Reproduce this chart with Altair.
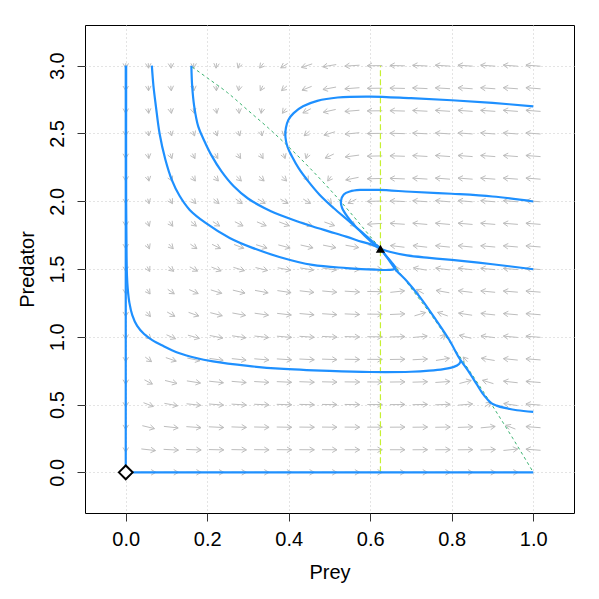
import math
import altair as alt
import pandas as pd

# ---------------- data ----------------
prey_ticks = [0.0, 0.2, 0.4, 0.6, 0.8, 1.0]
predator_ticks = [0.0, 0.5, 1.0, 1.5, 2.0, 2.5, 3.0]

# arrow grid (19 x 19)
grid_prey = [0.0, 0.0556, 0.1111, 0.1667, 0.2222, 0.2778, 0.3333, 0.3889, 0.4444, 0.5,
             0.5556, 0.6111, 0.6667, 0.7222, 0.7778, 0.8333, 0.8889, 0.9444, 1.0]
grid_predator = [0.0, 0.1667, 0.3333, 0.5, 0.6667, 0.8333, 1.0, 1.1667, 1.3333, 1.5,
                 1.6667, 1.8333, 2.0, 2.1667, 2.3333, 2.5, 2.6667, 2.8333, 3.0]

# direction of the flow at every grid point (degrees, in data space); None = no arrow
flow_angle = [
    [None, 0, 0, 0, 0, 0, 0, 0, 0, 0, 0, 0, 0, 0, 0, 0, 0, 0, None],
    [-90, -19, -9, -6, -4, -3, -2, -2, -1, -1, 0, 0, 0, 1, 1, 2, 5, 17, 167],
    [-90, -36, -18, -12, -8, -6, -4, -3, -2, -2, -1, 0, 1, 2, 3, 6, 16, 130, 167],
    [-90, -49, -28, -18, -13, -10, -7, -5, -4, -3, -2, 0, 1, 3, 6, 14, 65, 156, 167],
    [-90, -58, -37, -25, -18, -14, -10, -8, -6, -4, -2, -1, 2, 5, 12, 38, 137, 161, 167],
    [-90, -65, -46, -32, -24, -18, -14, -11, -8, -6, -3, -1, 3, 9, 26, 107, 153, 163, 167],
    [-90, -70, -53, -40, -30, -23, -18, -14, -11, -8, -5, -1, 4, 17, 72, 144, 159, 164, 167],
    [-90, -74, -59, -47, -37, -29, -23, -19, -15, -11, -7, -2, 8, 42, 133, 155, 162, 165, 167],
    [-90, -77, -64, -53, -43, -36, -29, -24, -19, -15, -10, -3, 18, 120, 152, 160, 163, 166, 167],
    [-90, -80, -69, -59, -50, -42, -36, -30, -25, -21, -16, -6, 99, 152, 159, 162, 165, 166, 167],
    [-90, -82, -73, -64, -56, -50, -43, -38, -34, -31, -28, -33, 160, 161, 163, 164, 165, 166, 167],
    [-90, -83, -76, -69, -63, -57, -52, -48, -46, -47, -64, -169, 169, 165, 165, 165, 166, 167, 167],
    [-90, -84, -79, -73, -68, -64, -61, -59, -61, -74, -124, -175, 172, 168, 166, 166, 166, 167, 167],
    [-90, -86, -81, -77, -74, -71, -70, -71, -79, -104, -149, -176, 173, 169, 167, 167, 167, 167, 167],
    [-90, -87, -83, -80, -78, -77, -78, -83, -97, -125, -158, -177, 174, 170, 168, 167, 167, 167, 167],
    [-90, -87, -85, -83, -82, -83, -86, -94, -111, -138, -163, -178, 175, 171, 169, 168, 167, 167, 167],
    [-90, -88, -87, -86, -86, -88, -93, -104, -122, -146, -166, -178, 175, 171, 169, 168, 168, 167, 167],
    [-90, -89, -88, -88, -89, -93, -100, -111, -130, -151, -167, -178, 176, 172, 170, 168, 168, 167, 167],
    [-90, -89, -89, -90, -92, -97, -105, -118, -135, -154, -169, -178, 176, 172, 170, 169, 168, 167, 167],
]

# prey nullcline (dashed green)
prey_null_prey = [0.163, 0.2, 0.25, 0.3, 0.35, 0.4, 0.45, 0.5, 0.55, 0.6, 0.65, 0.7,
                  0.75, 0.8, 0.85, 0.9, 0.95, 1.0]
prey_null_pred = [2.99, 2.91, 2.80, 2.67, 2.54, 2.40, 2.25, 2.09, 1.92, 1.74, 1.56, 1.36,
                  1.16, 0.94, 0.72, 0.49, 0.25, 0.0]
# predator nullcline (dashed yellow-green)
pred_null_prey = [0.625, 0.625]
pred_null_pred = [0.0, 3.0]

# trajectories (prey, predator)
traj_prey = {
    "t1": [0.0, 0.0],
    "t2": [0.0, 1.0],
    "t3": [0.064, 0.068, 0.074, 0.083, 0.097, 0.113, 0.132, 0.157, 0.196, 0.255, 0.311,
           0.377, 0.458, 0.542, 0.61, 0.645, 0.658, 0.661, 0.652, 0.638, 0.625],
    "t4": [0.161, 0.163, 0.168, 0.178, 0.192, 0.21, 0.235, 0.265, 0.30, 0.34, 0.377, 0.42,
           0.459, 0.50, 0.541, 0.58, 0.606, 0.625],
    "t5": [1.0, 0.9, 0.8, 0.7, 0.6, 0.52, 0.47, 0.435, 0.412, 0.399, 0.393, 0.392, 0.397,
           0.408, 0.425, 0.447, 0.475, 0.51, 0.545, 0.58, 0.61, 0.625],
    "t6": [1.0, 0.9, 0.8, 0.7, 0.62, 0.575, 0.55, 0.535, 0.528, 0.531, 0.543, 0.562, 0.585,
           0.607, 0.625],
    "t7": [1.0, 0.9, 0.8, 0.745, 0.69, 0.65, 0.625],
    "t8": [1.0, 0.96, 0.93, 0.91, 0.897, 0.887, 0.876, 0.86, 0.84, 0.819, 0.794, 0.76, 0.721,
           0.69, 0.663, 0.645, 0.625],
    "t9": [0.001, 0.001, 0.002, 0.003, 0.005, 0.009, 0.016, 0.028, 0.045, 0.065, 0.09, 0.13,
           0.17, 0.214, 0.3, 0.377, 0.5, 0.6, 0.7, 0.745, 0.78, 0.805, 0.818, 0.823],
}
traj_pred = {
    "t1": [3.0, 0.0],
    "t2": [0.0, 0.0],
    "t3": [3.0, 2.85, 2.7, 2.5, 2.31, 2.158, 2.04, 1.936, 1.84, 1.729, 1.656, 1.589, 1.53,
           1.507, 1.495, 1.493, 1.498, 1.512, 1.55, 1.6, 1.65],
    "t4": [3.0, 2.85, 2.7, 2.55, 2.45, 2.34, 2.22, 2.11, 2.02, 1.95, 1.9, 1.852, 1.813,
           1.776, 1.739, 1.70, 1.678, 1.65],
    "t5": [2.70, 2.725, 2.745, 2.76, 2.772, 2.765, 2.74, 2.70, 2.65, 2.60, 2.54, 2.47, 2.40,
           2.33, 2.24, 2.15, 2.05, 1.95, 1.86, 1.77, 1.69, 1.65],
    "t6": [1.998, 2.035, 2.055, 2.07, 2.083, 2.083, 2.072, 2.05, 2.0, 1.95, 1.89, 1.82,
           1.75, 1.69, 1.65],
    "t7": [1.498, 1.535, 1.567, 1.582, 1.60, 1.625, 1.65],
    "t8": [0.446, 0.458, 0.475, 0.492, 0.51, 0.54, 0.58, 0.656, 0.75, 0.84, 0.976, 1.13,
           1.296, 1.41, 1.493, 1.57, 1.65],
    "t9": [3.0, 2.0, 1.6, 1.45, 1.35, 1.25, 1.16, 1.08, 1.02, 0.975, 0.935, 0.88, 0.845,
           0.818, 0.785, 0.765, 0.748, 0.74, 0.742, 0.75, 0.762, 0.778, 0.80, 0.83],
}

stable_prey, stable_pred = [0.625], [1.65]
origin_prey, origin_pred = [0.0], [0.0]

# ---------------- layout / style ----------------
W, H = 489, 488
XDOM, YDOM = [-0.1, 1.1], [-0.3, 3.3]
SX = W / (XDOM[1] - XDOM[0])
SY = H / (YDOM[1] - YDOM[0])
ARROW_LEN = 0.0368   # data units
HEAD_PX = 5.5
FONT = "Liberation Sans"
FS = 20

rows = []
for j, yv in enumerate(grid_predator):
    for i, xv in enumerate(grid_prey):
        a = flow_angle[j][i]
        if a is None:
            continue
        r = math.radians(a)
        dx, dy = ARROW_LEN * math.cos(r) / 2, ARROW_LEN * math.sin(r) / 2
        x0, y0, x1, y1 = xv - dx, yv - dy, xv + dx, yv + dy
        rows.append(dict(x=x0, y=y0, x2=x1, y2=y1))
        ux, uy = math.cos(r) * SX, math.sin(r) * SY
        n = math.hypot(ux, uy)
        ux, uy = ux / n, uy / n
        for s in (1, -1):
            t = math.radians(180 + s * 30)
            bx = ux * math.cos(t) - uy * math.sin(t)
            by = ux * math.sin(t) + uy * math.cos(t)
            rows.append(dict(x=x1, y=y1, x2=x1 + HEAD_PX * bx / SX, y2=y1 + HEAD_PX * by / SY))
arrows_df = pd.DataFrame(rows)

traj_rows = []
for k in traj_prey:
    for n_, (px, py) in enumerate(zip(traj_prey[k], traj_pred[k])):
        traj_rows.append(dict(traj=k, ord=n_, prey=px, pred=py))
traj_df = pd.DataFrame(traj_rows)

prey_null_df = pd.DataFrame({"prey": prey_null_prey, "pred": prey_null_pred,
                             "ord": list(range(len(prey_null_prey)))})
pred_null_df = pd.DataFrame({"prey": [pred_null_prey[0]], "pred": [pred_null_pred[0]],
                             "pred2": [pred_null_pred[1]]})
stable_df = pd.DataFrame({"prey": stable_prey, "pred": stable_pred})
origin_df = pd.DataFrame({"prey": origin_prey, "pred": origin_pred})

xscale = alt.Scale(domain=XDOM, nice=False, zero=False)
yscale = alt.Scale(domain=YDOM, nice=False, zero=False)

axis_common = dict(
    format=".1f", grid=True, gridDash=[1, 3], gridColor="#c8c8c8", gridWidth=1,
    domain=False, tickSize=8, tickColor="#333333", tickWidth=1,
    labelFont=FONT, labelFontSize=FS, labelColor="black", labelOverlap=False,
    labelFlush=False, titleFont=FONT, titleFontSize=FS, titleFontWeight="normal",
    titleColor="black",
)
x_axis = alt.Axis(values=prey_ticks, title="Prey", labelPadding=8,
                  titleX=W / 2, titleY=65, titleBaseline="alphabetic",
                  titleAnchor="middle", **axis_common)
y_axis = alt.Axis(values=predator_ticks, title="Predator", labelAngle=270,
                  labelAlign="center", labelBaseline="alphabetic", labelPadding=14,
                  titleAngle=270, titleX=-52, titleY=H / 2, titleBaseline="alphabetic",
                  titleAnchor="middle", **axis_common)


def X(field):
    return alt.X(field, type="quantitative", scale=xscale, axis=x_axis)


def Y(field):
    return alt.Y(field, type="quantitative", scale=yscale, axis=y_axis)


arrows = alt.Chart(arrows_df).mark_rule(color="#bdbdbd", strokeWidth=1).encode(
    x=X("x"), y=Y("y"), x2="x2", y2="y2")

prey_null = alt.Chart(prey_null_df).mark_line(
    color="#3cb371", strokeWidth=1, strokeDash=[3, 3], interpolate="monotone"
).encode(x=X("prey"), y=Y("pred"), order="ord:Q")

pred_null = alt.Chart(pred_null_df).mark_rule(
    color="#c6f032", strokeWidth=1.2, strokeDash=[6, 3]
).encode(x=X("prey"), y=Y("pred"), y2="pred2")

traj = alt.Chart(traj_df).mark_line(
    color="#1e90ff", strokeWidth=2.2, interpolate="catmull-rom"
).encode(x=X("prey"), y=Y("pred"), detail="traj:N", order="ord:Q")

origin = alt.Chart(origin_df).mark_point(
    shape="diamond", filled=True, fill="white", stroke="black", strokeWidth=2,
    size=190, opacity=1
).encode(x=X("prey"), y=Y("pred"))

stable = alt.Chart(stable_df).mark_point(
    shape="triangle-up", filled=True, color="black", size=85, opacity=1
).encode(x=X("prey"), y=Y("pred"))

chart = alt.layer(arrows, prey_null, pred_null, traj, origin, stable).properties(
    width=W, height=H,
    autosize=alt.AutoSizeParams(type="none"),
    padding={"left": 77, "top": 17, "right": 10, "bottom": 70},
    background="white",
).configure_view(stroke="black", strokeWidth=1)

chart.save("out.html", embed_options={"renderer": "svg", "actions": False})
